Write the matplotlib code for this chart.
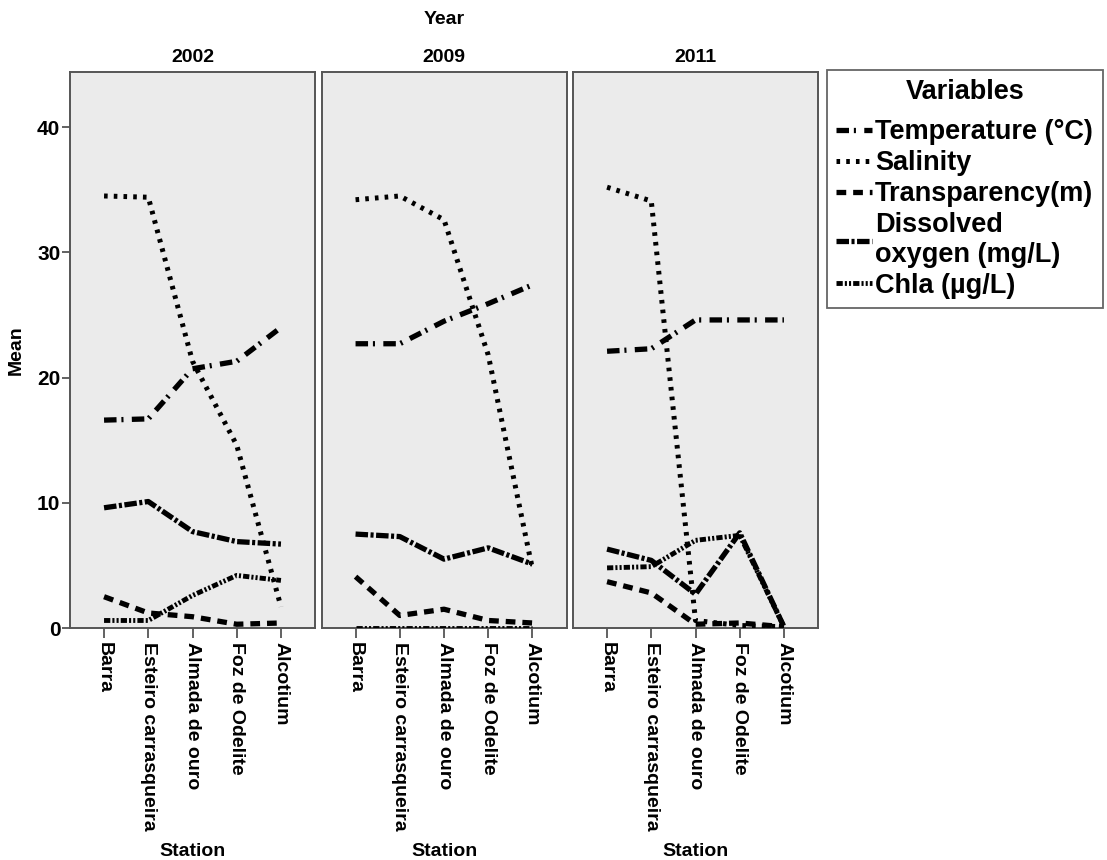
import matplotlib
matplotlib.use('Agg')
import matplotlib.pyplot as plt
from matplotlib.lines import Line2D

plt.rcParams['font.family'] = ['Liberation Sans', 'DejaVu Sans']
plt.rcParams['font.weight'] = 'bold'
plt.rcParams['lines.scale_dashes'] = False

# Data (means per station, per year)
years = ['2002', '2009', '2011']
stations = ['Barra', 'Esteiro carrasqueira', 'Almada de ouro', 'Foz de Odelite', 'Alcotium']

temperature = [[16.6, 16.7, 20.7, 21.3, 24.0],
               [22.7, 22.7, 24.5, 25.9, 27.4],
               [22.1, 22.3, 24.6, 24.6, 24.6]]
salinity = [[34.5, 34.4, 21.3, 14.6, 1.7],
            [34.2, 34.5, 32.6, 21.8, 4.7],
            [35.2, 34.1, 0.6, 0.2, 0.1]]
transparency = [[2.5, 1.2, 0.9, 0.3, 0.4],
                [4.1, 1.0, 1.5, 0.6, 0.4],
                [3.7, 2.8, 0.3, 0.4, 0.1]]
oxygen = [[9.6, 10.1, 7.7, 6.9, 6.7],
          [7.5, 7.3, 5.5, 6.4, 5.1],
          [6.3, 5.4, 2.7, 7.6, 0.1]]
chla = [[0.6, 0.6, 2.6, 4.2, 3.8],
        [0.0, 0.0, 0.0, 0.0, 0.0],
        [4.8, 4.9, 7.0, 7.4, 0.1]]

series = [
    ('Temperature (°C)', temperature, (0, (9, 3.5, 1.5, 6)), 3.8),
    ('Salinity', salinity, (0, (2.6, 4.4)), 3.6),
    ('Transparency(m)', transparency, (0, (7, 5)), 3.8),
    ('Dissolved\noxygen (mg/L)', oxygen, (0, (9, 1.8, 2.2, 1.8)), 3.8),
    ('Chla (µg/L)', chla, (0, (4.5, 1.5, 1.5, 1.5, 1.5, 1.5)), 3.5),
]

W, H = 1107, 860
fig = plt.figure(figsize=(W / 100, H / 100), dpi=100)

lefts = [70, 321.5, 573]
pw = 245
top, bottom = 72, 628
xs = list(range(len(stations)))

for i, year in enumerate(years):
    ax = fig.add_axes([lefts[i] / W, 1 - bottom / H, pw / W, (bottom - top) / H])
    ax.set_facecolor('#ebebeb')
    for name, vals, ls, lw in series:
        ax.plot(xs, vals[i], color='black', linestyle=ls, lw=lw,
                dash_capstyle='butt', solid_capstyle='butt', zorder=3)
    ax.set_xlim(-0.77, 4.77)
    ax.set_ylim(0, 44.4)
    for sp in ax.spines.values():
        sp.set_color('#555555')
        sp.set_linewidth(1.4)
    ax.set_xticks(xs)
    ax.set_xticklabels(stations, rotation=-90, fontsize=14, fontweight='bold',
                       va='top', ha='center')
    ax.tick_params(axis='x', length=7, width=1.3, color='#555555', pad=3)
    if i == 0:
        ax.set_yticks([0, 10, 20, 30, 40])
        ax.set_yticklabels(['0', '10', '20', '30', '40'], fontsize=15, fontweight='bold')
        ax.tick_params(axis='y', length=6, width=1.3, color='#555555', pad=1)
        ax.set_ylabel('Mean', fontsize=14, fontweight='bold', labelpad=9)
    else:
        ax.set_yticks([])
    ax.set_title(year, fontsize=14, fontweight='bold', pad=7)
    ax.set_xlabel('Station', fontsize=14, fontweight='bold', labelpad=9)

fig.text((lefts[0] + lefts[2] + pw) / 2 / W, 1 - 20 / H, 'Year',
         fontsize=14, fontweight='bold', ha='center', va='center')

handles = [Line2D([0], [0], color='black', linestyle=ls, lw=lw, dash_capstyle='butt')
           for _, _, ls, lw in series]
labels = [s[0] for s in series]
leg = fig.legend(handles, labels, loc='upper left',
                 bbox_to_anchor=(827 / W, 1 - 70 / H), borderaxespad=0,
                 prop={'size': 19.5, 'weight': 'bold'}, title='Variables',
                 title_fontproperties={'size': 19.5, 'weight': 'bold'},
                 handlelength=1.3, handletextpad=0.12, labelspacing=0.18,
                 borderpad=0.35, fancybox=False, edgecolor='#666666',
                 framealpha=1)
leg.get_frame().set_linewidth(1.3)
leg._legend_box.sep = 10

fig.savefig('out.png', dpi=100)
